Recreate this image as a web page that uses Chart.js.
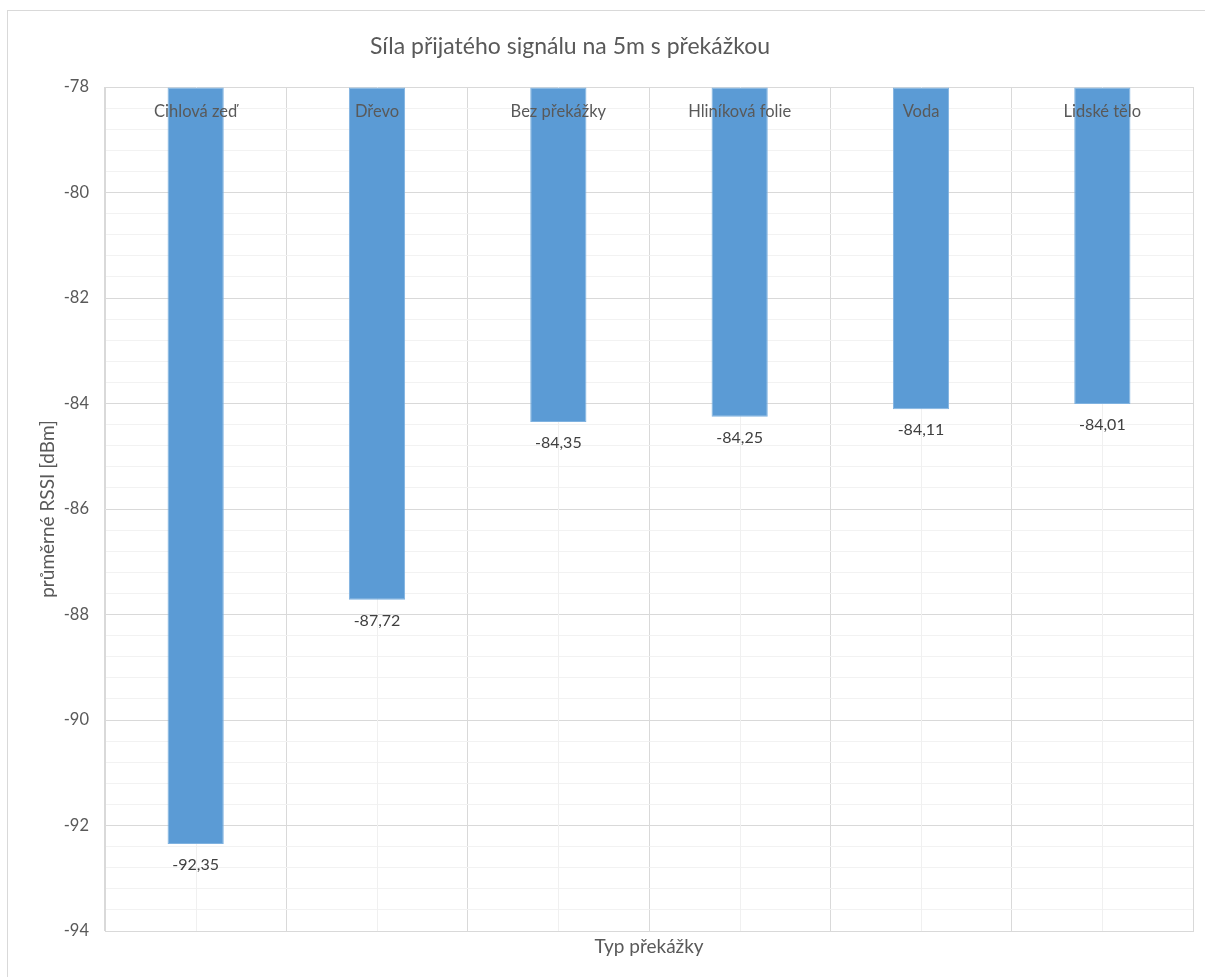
<!DOCTYPE html>
<html>
<head>
<meta charset="utf-8" />
<title>Síla přijatého signálu</title>
<script src="https://cdn.jsdelivr.net/npm/chart.js"></script>
<style>
  html, body { margin: 0; padding: 0; background: #ffffff; }
  #wrap { width: 1205px; height: 977px; }
</style>
</head>
<body>
<div id="wrap"><canvas id="rssiChart" width="1205" height="977"></canvas></div>
<script>
// obstacle types and mean RSSI values (dBm)
const obstacles = ['Cihlová zeď', 'Dřevo', 'Bez překážky', 'Hliníková folie', 'Voda', 'Lidské tělo'];
const rssi = [-92.35, -87.72, -84.35, -84.25, -84.11, -84.01];
const yMin = -94;
const yMax = -78;
const yStep = 0.4;   // minor gridline step, labels every 2 dB
const chartTitle = 'Síla přijatého signálu na 5m s překážkou';

const textFont = 'Lato, "Open Sans", sans-serif';
const isMajor = v => Math.abs(v / 2 - Math.round(v / 2)) < 1e-6;

// outer frame, title, minor vertical lines, category names and value labels
const decor = {
  id: 'decor',
  beforeDraw(chart) {
    const ctx = chart.ctx;
    ctx.save();
    ctx.strokeStyle = '#d9d9d9';
    ctx.lineWidth = 1;
    ctx.strokeRect(7.5, 10.5, chart.width + 20, chart.height + 20);
    // title sits a little left of the plot centre, like the Excel original
    ctx.font = '23px ' + textFont;
    ctx.fillStyle = '#595959';
    ctx.textAlign = 'center';
    ctx.textBaseline = 'middle';
    ctx.fillText(chartTitle, 570, 47);
    ctx.restore();
  },
  beforeDatasetsDraw(chart) {
    const ctx = chart.ctx, x = chart.scales.x, area = chart.chartArea;
    ctx.save();
    ctx.strokeStyle = '#f0f0f0';
    ctx.lineWidth = 1;
    obstacles.forEach((_, i) => {
      const px = Math.round(x.getPixelForValue(i)) + 0.5;
      ctx.beginPath();
      ctx.moveTo(px, area.top);
      ctx.lineTo(px, area.bottom);
      ctx.stroke();
    });
    ctx.restore();
  },
  afterDatasetsDraw(chart) {
    const ctx = chart.ctx, x = chart.scales.x, area = chart.chartArea;
    const meta = chart.getDatasetMeta(0);
    ctx.save();
    ctx.textAlign = 'center';
    ctx.textBaseline = 'middle';
    ctx.font = '16.5px ' + textFont;
    ctx.fillStyle = '#595959';
    obstacles.forEach((name, i) => {
      ctx.fillText(name, x.getPixelForValue(i), area.top + 25);
    });
    ctx.font = '16px ' + textFont;
    ctx.fillStyle = '#404040';
    meta.data.forEach((bar, i) => {
      const label = rssi[i].toFixed(2).replace('.', ',');
      ctx.fillText(label, bar.x, bar.y + 21);
    });
    ctx.restore();
  }
};

new Chart(document.getElementById('rssiChart'), {
  type: 'bar',
  data: {
    labels: obstacles,
    datasets: [{
      data: rssi,
      base: yMax,
      backgroundColor: '#5b9bd5',
      borderColor: '#7fb2e0',
      borderWidth: 1,
      borderSkipped: false,
      categoryPercentage: 1,
      barPercentage: 0.31
    }]
  },
  options: {
    responsive: false,
    animation: false,
    layout: { padding: { left: 0, right: 12, top: 87, bottom: 0 } },
    plugins: {
      legend: { display: false },
      tooltip: { enabled: false },
      title: { display: false }
    },
    scales: {
      x: {
        grid: { color: '#d9d9d9', drawTicks: false },
        border: { color: '#d9d9d9' },
        ticks: { display: false },
        title: {
          display: true,
          text: 'Typ překážky',
          color: '#595959',
          font: { family: textFont, size: 19 },
          padding: { top: 6, bottom: 19 }
        },
        afterFit(scale) { scale.height = 46; }
      },
      y: {
        min: yMin,
        max: yMax,
        grid: {
          drawTicks: false,
          color: ctx => isMajor(ctx.tick.value) ? '#d9d9d9' : '#f2f2f2'
        },
        border: { color: '#d9d9d9' },
        ticks: {
          stepSize: yStep,
          autoSkip: false,
          padding: 16,
          color: '#595959',
          font: { family: textFont, size: 16.5 },
          callback: v => isMajor(v) ? String(Math.round(v)) : ''
        },
        title: {
          display: true,
          text: 'průměrné RSSI [dBm]',
          color: '#595959',
          font: { family: textFont, size: 19 },
          padding: { top: 36, bottom: 0 }
        },
        afterFit(scale) { scale.width = 105; }
      }
    }
  },
  plugins: [decor]
});
</script>
</body>
</html>
